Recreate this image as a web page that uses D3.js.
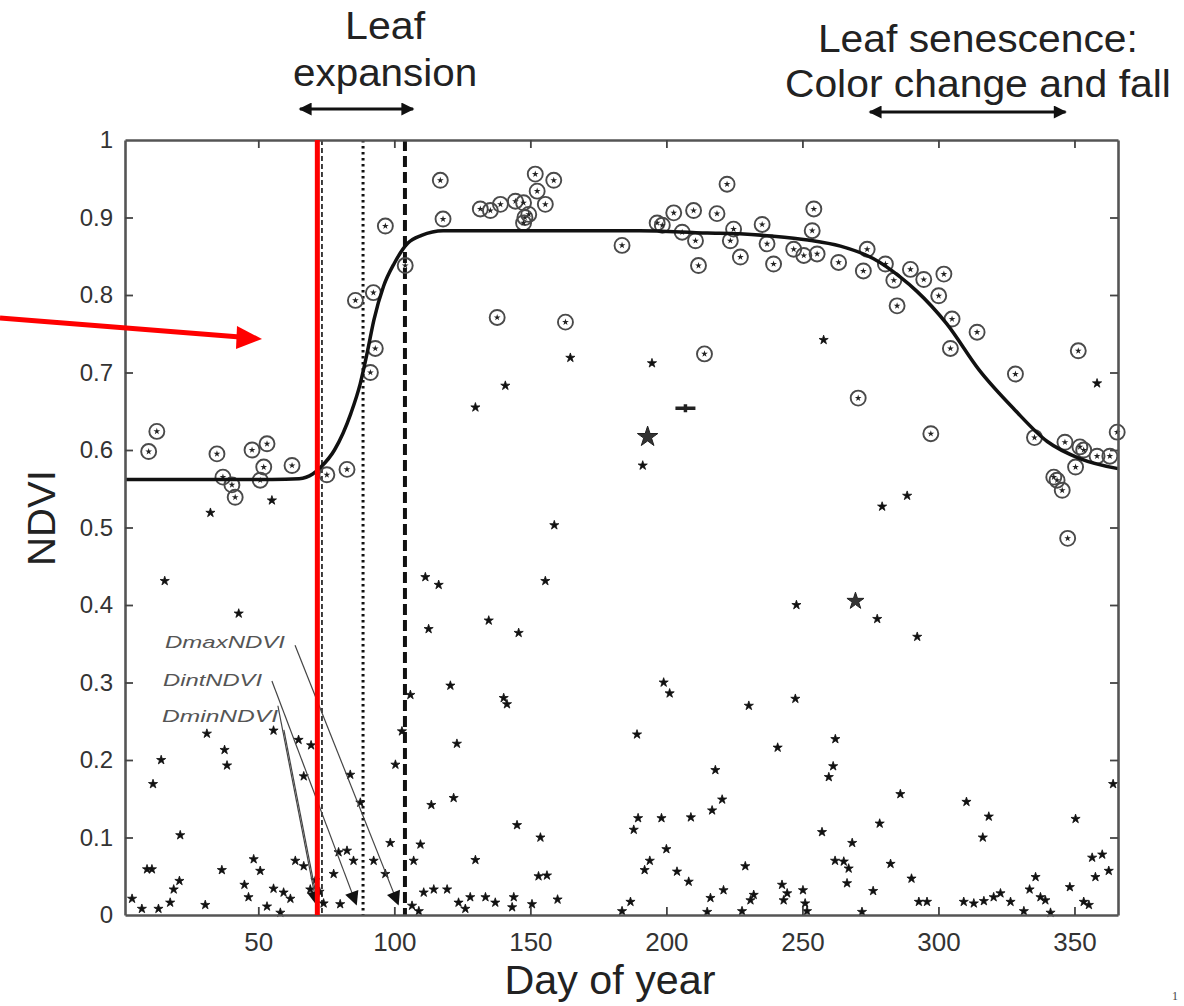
<!DOCTYPE html>
<html>
<head>
<meta charset="utf-8">
<script src="https://cdn.jsdelivr.net/npm/d3@7"></script>
<style>
  body { margin: 0; background: #fff; }
  svg { display: block; font-family: "Liberation Sans", Arial, sans-serif; }
</style>
</head>
<body>
<div id="canvas"></div>
<script>
// fitted NDVI curve
var curveDays = [1, 30, 55, 65, 70, 73, 78, 84, 87.5, 90, 92.5, 96, 100, 105, 110, 118, 150, 190, 215, 227, 239, 252, 264, 276, 286, 292, 303, 315, 328, 340, 352, 366];
var curveNdvi = [0.562, 0.562, 0.562, 0.563, 0.569, 0.578, 0.600, 0.647, 0.686, 0.725, 0.768, 0.811, 0.841, 0.867, 0.877, 0.883, 0.883, 0.883, 0.880, 0.879, 0.876, 0.871, 0.863, 0.847, 0.823, 0.805, 0.763, 0.703, 0.652, 0.611, 0.589, 0.576];

// good quality observations (circled)
var goodDays = [9.7, 12.7, 34.8, 37, 40.3, 41.5, 47.7, 53.2, 52, 50.7, 62.4, 75.2, 82.6,
  85.7, 92.3, 93, 91.2, 96.7, 104,
  116.9, 117.9, 131.6, 135.3, 139, 144.5, 147.5, 148, 147.5, 149.4, 151.8, 152.5, 155.5, 158.6, 137.8, 162.9, 183.7,
  196.6, 202.7, 205.8, 210, 210.7, 211.8, 218.6, 222.3, 224.7, 223.5, 227.2, 235.2, 237, 239.4, 246.8, 250.5, 253.6, 254.2, 255.4, 263.3, 273.8, 272.4, 214, 198.5,
  280.5, 283.6, 284.8, 289.7, 294.6, 302, 300.1, 305, 314.2, 304.4, 328.3, 351.4, 270.5, 297.2, 335.3, 346.5, 352, 353.4, 358.3, 363, 350.4, 365.7, 343.6, 342.4, 345.5, 347.5];
var goodNdvi = [0.598, 0.624, 0.595, 0.565, 0.555, 0.539, 0.600, 0.608, 0.578, 0.561, 0.580, 0.568, 0.575,
  0.793, 0.803, 0.731, 0.700, 0.889, 0.838,
  0.948, 0.898, 0.911, 0.909, 0.917, 0.921, 0.919, 0.900, 0.893, 0.904, 0.956, 0.934, 0.917, 0.948, 0.771, 0.765, 0.864,
  0.893, 0.906, 0.881, 0.909, 0.870, 0.838, 0.905, 0.943, 0.885, 0.870, 0.849, 0.891, 0.866, 0.840, 0.859, 0.851, 0.883, 0.911, 0.853, 0.842, 0.859, 0.831, 0.724, 0.890,
  0.840, 0.819, 0.786, 0.833, 0.820, 0.827, 0.799, 0.769, 0.752, 0.731, 0.698, 0.728, 0.667, 0.621, 0.616, 0.610, 0.604, 0.600, 0.592, 0.592, 0.578, 0.623, 0.561, 0.565, 0.548, 0.486];

// cloudy / low quality observations (small stars)
var cloudDays = [32.4, 55, 15.6, 42.8, 31.1, 37.6, 38.5, 14.3, 11.3, 21.3, 55.6, 64.8, 69.4, 66.7, 83.8, 87.5, 100.4, 102.8, 105.9, 112.6, 111.4, 116.3, 134.7, 145.7, 155.5, 120.6, 140.2, 141.4, 123, 113.6, 121.8, 145.1, 153.7, 156.1, 98.5, 109.6, 129.8,
  9.1, 10.9, 36.6, 48.3, 50.7, 44.9, 46.4, 21, 18.9, 17.6, 3.6, 7.2, 13.3, 30.5, 55.6, 59.3, 61.8, 53.2, 58.1, 63.6, 66.7, 69.1, 77.7, 80.1, 79.5, 82.6, 85, 92.4, 96.7, 107.1, 106.5, 109, 110.8, 114.5, 119.4, 123.6, 126.1, 127.9, 133.5, 137.1, 143.9, 143.3, 150.6, 153,
  72.5, 74, 71, 140.8, 129.8,
  164.7, 194.7, 191.3, 158.8, 257.8, 247.8, 199, 201.2, 189.2, 230.3, 247.4, 240.9, 262.1, 261.3, 259.7, 218, 220.5, 216.8, 189.6, 188, 198.2, 209, 257.2, 200, 193.9, 192, 203.9, 208.2, 229, 242.5, 244.4, 243.1, 250.2, 251, 251.7, 221, 216.2, 232.1, 230.9, 227.8, 186.8, 183.7, 160, 215, 262,
  358.3, 288.5, 279.3, 277.5, 292.2, 286, 278.4, 268.3, 265.2, 267, 282.4, 266.4, 276, 290.1, 271.9, 292.8, 295.8, 310.3, 318.5, 316.3, 350.4, 364.2, 360.2, 356.5, 362.6, 357.7, 348.3, 335.7, 333.5, 337.5, 339.3, 341.2, 331.4, 309.3, 313, 316.7, 320.3, 322.8, 326.5, 353.4, 355.3];
var cloudNdvi = [0.519, 0.535, 0.431, 0.389, 0.234, 0.213, 0.193, 0.200, 0.169, 0.103, 0.238, 0.226, 0.219, 0.179, 0.181, 0.145, 0.194, 0.237, 0.284, 0.369, 0.436, 0.426, 0.380, 0.364, 0.431, 0.296, 0.280, 0.272, 0.221, 0.142, 0.151, 0.116, 0.100, 0.051, 0.093, 0.091, 0.071,
  0.059, 0.059, 0.058, 0.072, 0.057, 0.039, 0.023, 0.044, 0.033, 0.016, 0.021, 0.008, 0.008, 0.013, 0.034, 0.029, 0.021, 0.011, 0.003, 0.070, 0.063, 0.033, 0.053, 0.014, 0.081, 0.083, 0.070, 0.070, 0.053, 0.070, 0.012, 0.005, 0.029, 0.033, 0.033, 0.016, 0.008, 0.023, 0.023, 0.016, 0.023, 0.010, 0.014, 0.050,
  0.030, 0.015, 0.045, 0.683, 0.655,
  0.719, 0.712, 0.580, 0.503, 0.742, 0.400, 0.300, 0.286, 0.233, 0.270, 0.279, 0.216, 0.227, 0.192, 0.178, 0.187, 0.149, 0.135, 0.125, 0.110, 0.125, 0.126, 0.107, 0.085, 0.070, 0.058, 0.056, 0.043, 0.063, 0.039, 0.028, 0.019, 0.032, 0.015, 0.005, 0.032, 0.022, 0.026, 0.019, 0.005, 0.017, 0.005, 0.020, 0.004, 0.070,
  0.686, 0.541, 0.527, 0.382, 0.359, 0.156, 0.118, 0.093, 0.069, 0.060, 0.066, 0.041, 0.031, 0.047, 0.004, 0.017, 0.017, 0.146, 0.127, 0.100, 0.124, 0.169, 0.078, 0.074, 0.057, 0.049, 0.036, 0.049, 0.033, 0.023, 0.019, 0.003, 0.005, 0.017, 0.015, 0.018, 0.023, 0.028, 0.017, 0.017, 0.013];

// a few larger marks
var bigDays = [193.1, 207, 269.5];
var bigNdvi = [0.617, 0.654, 0.405];

var xTicks = [50, 100, 150, 200, 250, 300, 350];
var yTicks = [0, 0.1, 0.2, 0.3, 0.4, 0.5, 0.6, 0.7, 0.8, 0.9, 1];

// phenology dates (vertical lines)
var redDay = 71.7;
var dateNames = ["DminNDVI", "DintNDVI", "DmaxNDVI"];
var dateDays = [73.4, 88.5, 103.9];
// where each label sits (day, ndvi) and where its pointer line starts
var labelDays = [14.6, 15.0, 15.7];
var labelNdvi = [0.249, 0.295, 0.345];
var pointerDays = [57.2, 55.0, 63.5];
var pointerNdvi = [0.270, 0.302, 0.348];

var width = 1184, height = 1006;
var x = d3.scaleLinear().domain([1, 366]).range([125, 1118]);
var y = d3.scaleLinear().domain([0, 1]).range([915, 140]);

var svg = d3.select("#canvas").append("svg")
  .attr("width", width)
  .attr("height", height);

var defs = svg.append("defs");
defs.append("marker")
  .attr("id", "head")
  .attr("viewBox", "0 0 10 10")
  .attr("refX", 9).attr("refY", 5)
  .attr("markerUnits", "userSpaceOnUse")
  .attr("markerWidth", 15).attr("markerHeight", 13)
  .attr("orient", "auto-start-reverse")
  .append("path").attr("d", "M0,0L10,5L0,10Z").attr("fill", "#111");
defs.append("marker")
  .attr("id", "thinhead")
  .attr("viewBox", "0 0 10 10")
  .attr("refX", 9).attr("refY", 5)
  .attr("markerUnits", "userSpaceOnUse")
  .attr("markerWidth", 17).attr("markerHeight", 14)
  .attr("orient", "auto")
  .append("path").attr("d", "M0,0L10,5L0,10Z").attr("fill", "#111");

// vertical date lines
var lineStyle = [
  { w: 1.6, dash: "5,3" },
  { w: 3, dash: "2.5,3.5" },
  { w: 4, dash: "11,5" }
];
svg.selectAll("line.date")
  .data(dateDays)
  .enter().append("line")
  .attr("class", "date")
  .attr("x1", function(d) { return x(d); })
  .attr("x2", function(d) { return x(d); })
  .attr("y1", y(1)).attr("y2", y(0))
  .attr("stroke", "#111")
  .attr("stroke-width", function(d, i) { return lineStyle[i].w; })
  .attr("stroke-dasharray", function(d, i) { return lineStyle[i].dash; });

// cloudy points
var smallStar = d3.symbol().type(d3.symbolStar).size(26);
svg.append("g").selectAll("path")
  .data(d3.zip(cloudDays, cloudNdvi))
  .enter().append("path")
  .attr("transform", function(d) { return "translate(" + x(d[0]) + "," + y(d[1]) + ")"; })
  .attr("d", smallStar)
  .attr("fill", "#111")
  .attr("stroke", "#111")
  .attr("stroke-width", 0.8);

// larger marks
var bigSym = [d3.symbol().type(d3.symbolStar).size(130)(), "M-10,0H10M0,-4V4", d3.symbol().type(d3.symbolStar).size(90)()];
svg.append("g").selectAll("path")
  .data(d3.zip(bigDays, bigNdvi))
  .enter().append("path")
  .attr("transform", function(d) { return "translate(" + x(d[0]) + "," + y(d[1]) + ")"; })
  .attr("d", function(d, i) { return bigSym[i]; })
  .attr("fill", "#333")
  .attr("stroke", "#222")
  .attr("stroke-width", function(d, i) { return i == 1 ? 3.5 : 1; });

// good points: ring with a star inside
var good = svg.append("g").selectAll("g")
  .data(d3.zip(goodDays, goodNdvi))
  .enter().append("g")
  .attr("transform", function(d) { return "translate(" + x(d[0]) + "," + y(d[1]) + ")"; });
good.append("circle")
  .attr("r", 7.5)
  .attr("fill", "none")
  .attr("stroke", "#4a4a4a")
  .attr("stroke-width", 1.9);
good.append("path")
  .attr("d", d3.symbol().type(d3.symbolStar).size(14))
  .attr("fill", "#222");

// fitted curve
var line = d3.line()
  .x(function(d) { return x(d[0]); })
  .y(function(d) { return y(d[1]); })
  .curve(d3.curveMonotoneX);
svg.append("path")
  .datum(d3.zip(curveDays, curveNdvi))
  .attr("d", line)
  .attr("fill", "none")
  .attr("stroke", "#111")
  .attr("stroke-width", 3.5);

// axes box with inward ticks
var fmt = function(d) { return d == 0 || d == 1 ? String(d) : d3.format(".1f")(d); };
var axBottom = svg.append("g")
  .attr("transform", "translate(0," + y(0) + ")")
  .call(d3.axisBottom(x).tickValues(xTicks).tickSizeInner(-8).tickSizeOuter(0).tickPadding(18));
var axTop = svg.append("g")
  .attr("transform", "translate(0," + y(1) + ")")
  .call(d3.axisTop(x).tickValues(xTicks).tickSizeInner(-8).tickSizeOuter(0).tickFormat(""));
var axLeft = svg.append("g")
  .attr("transform", "translate(" + x(1) + ",0)")
  .call(d3.axisLeft(y).tickValues(yTicks).tickSizeInner(-8).tickSizeOuter(0).tickPadding(12).tickFormat(fmt));
var axRight = svg.append("g")
  .attr("transform", "translate(" + x(366) + ",0)")
  .call(d3.axisRight(y).tickValues(yTicks).tickSizeInner(-8).tickSizeOuter(0).tickFormat(""));
[axBottom, axTop, axLeft, axRight].forEach(function(a) {
  a.select(".domain").attr("stroke", "#555").attr("stroke-width", 2.6);
  a.selectAll(".tick line").attr("stroke", "#444").attr("stroke-width", 1.8);
  a.selectAll("text").attr("fill", "#333").attr("font-family", "Liberation Sans, Arial, sans-serif");
});
axBottom.selectAll("text").attr("font-size", 26);
axLeft.selectAll("text").attr("font-size", 24);
// tick marks at 0 and 1 would sit on the box itself
axLeft.selectAll(".tick line").filter(function(d) { return d == 0 || d == 1; }).remove();
axRight.selectAll(".tick line").filter(function(d) { return d == 0 || d == 1; }).remove();

// axis titles
svg.append("text")
  .attr("x", 610).attr("y", 994)
  .attr("text-anchor", "middle")
  .attr("font-size", 40)
  .attr("fill", "#222")
  .attr("textLength", 211).attr("lengthAdjust", "spacingAndGlyphs")
  .text("Day of year");
svg.append("text")
  .attr("transform", "translate(55,518) rotate(-90)")
  .attr("text-anchor", "middle")
  .attr("font-size", 38)
  .attr("fill", "#222")
  .attr("textLength", 96).attr("lengthAdjust", "spacingAndGlyphs")
  .text("NDVI");

// date labels with pointer lines
svg.selectAll("text.dlab")
  .data(dateNames)
  .enter().append("text")
  .attr("class", "dlab")
  .attr("x", function(d, i) { return x(labelDays[i]); })
  .attr("y", function(d, i) { return y(labelNdvi[i]); })
  .attr("font-size", 17)
  .attr("font-style", "italic")
  .attr("fill", "#555")
  .attr("textLength", function(d, i) { return [116, 99, 120][i]; })
  .attr("lengthAdjust", "spacingAndGlyphs")
  .text(function(d) { return d; });
svg.selectAll("line.ptr")
  .data(dateDays)
  .enter().append("line")
  .attr("class", "ptr")
  .attr("x1", function(d, i) { return x(pointerDays[i]); })
  .attr("y1", function(d, i) { return y(pointerNdvi[i]); })
  .attr("x2", function(d, i) { return x(i == 0 ? redDay - 0.3 : d - 2.5); })
  .attr("y2", y(0.014))
  .attr("stroke", "#444")
  .attr("stroke-width", 1.2)
  .attr("marker-end", "url(#thinhead)");
// second pointer from the DminNDVI label
svg.append("line")
  .attr("x1", x(pointerDays[0] + 2.2)).attr("y1", y(pointerNdvi[0] - 0.031))
  .attr("x2", x(redDay + 0.2)).attr("y2", y(0.014))
  .attr("stroke", "#444").attr("stroke-width", 1.2);

// red line and arrow added on top of the figure
svg.append("line")
  .attr("x1", x(redDay)).attr("x2", x(redDay))
  .attr("y1", y(1)).attr("y2", y(0))
  .attr("stroke", "#ff0000")
  .attr("stroke-width", 5);
svg.append("line")
  .attr("x1", 0).attr("y1", 318)
  .attr("x2", 240).attr("y2", 337)
  .attr("stroke", "#ff0000")
  .attr("stroke-width", 5);
svg.append("path")
  .attr("d", "M262,339L237,326L236,349Z")
  .attr("fill", "#ff0000");

// top annotations
function label(t, cx, by, len) {
  svg.append("text")
    .attr("x", cx).attr("y", by)
    .attr("text-anchor", "middle")
    .attr("font-size", 38)
    .attr("fill", "#222")
    .attr("textLength", len).attr("lengthAdjust", "spacingAndGlyphs")
    .text(t);
}
label("Leaf", x(96.6), 39, 80);
label("expansion", x(96.6), 86, 184);
label("Leaf senescence:", x(314.5), 52, 320);
label("Color change and fall", x(314.5), 97, 386);
svg.append("line")
  .attr("x1", x(65.3)).attr("x2", x(106.9))
  .attr("y1", 109).attr("y2", 109)
  .attr("stroke", "#111").attr("stroke-width", 3)
  .attr("marker-start", "url(#head)").attr("marker-end", "url(#head)");
svg.append("line")
  .attr("x1", x(274.8)).attr("x2", x(346.7))
  .attr("y1", 112).attr("y2", 112)
  .attr("stroke", "#111").attr("stroke-width", 3)
  .attr("marker-start", "url(#head)").attr("marker-end", "url(#head)");

svg.append("text")
  .attr("x", 1172).attr("y", 1000)
  .attr("font-size", 12)
  .attr("font-family", "Liberation Serif, serif")
  .attr("fill", "#444")
  .text("1");
</script>
</body>
</html>
